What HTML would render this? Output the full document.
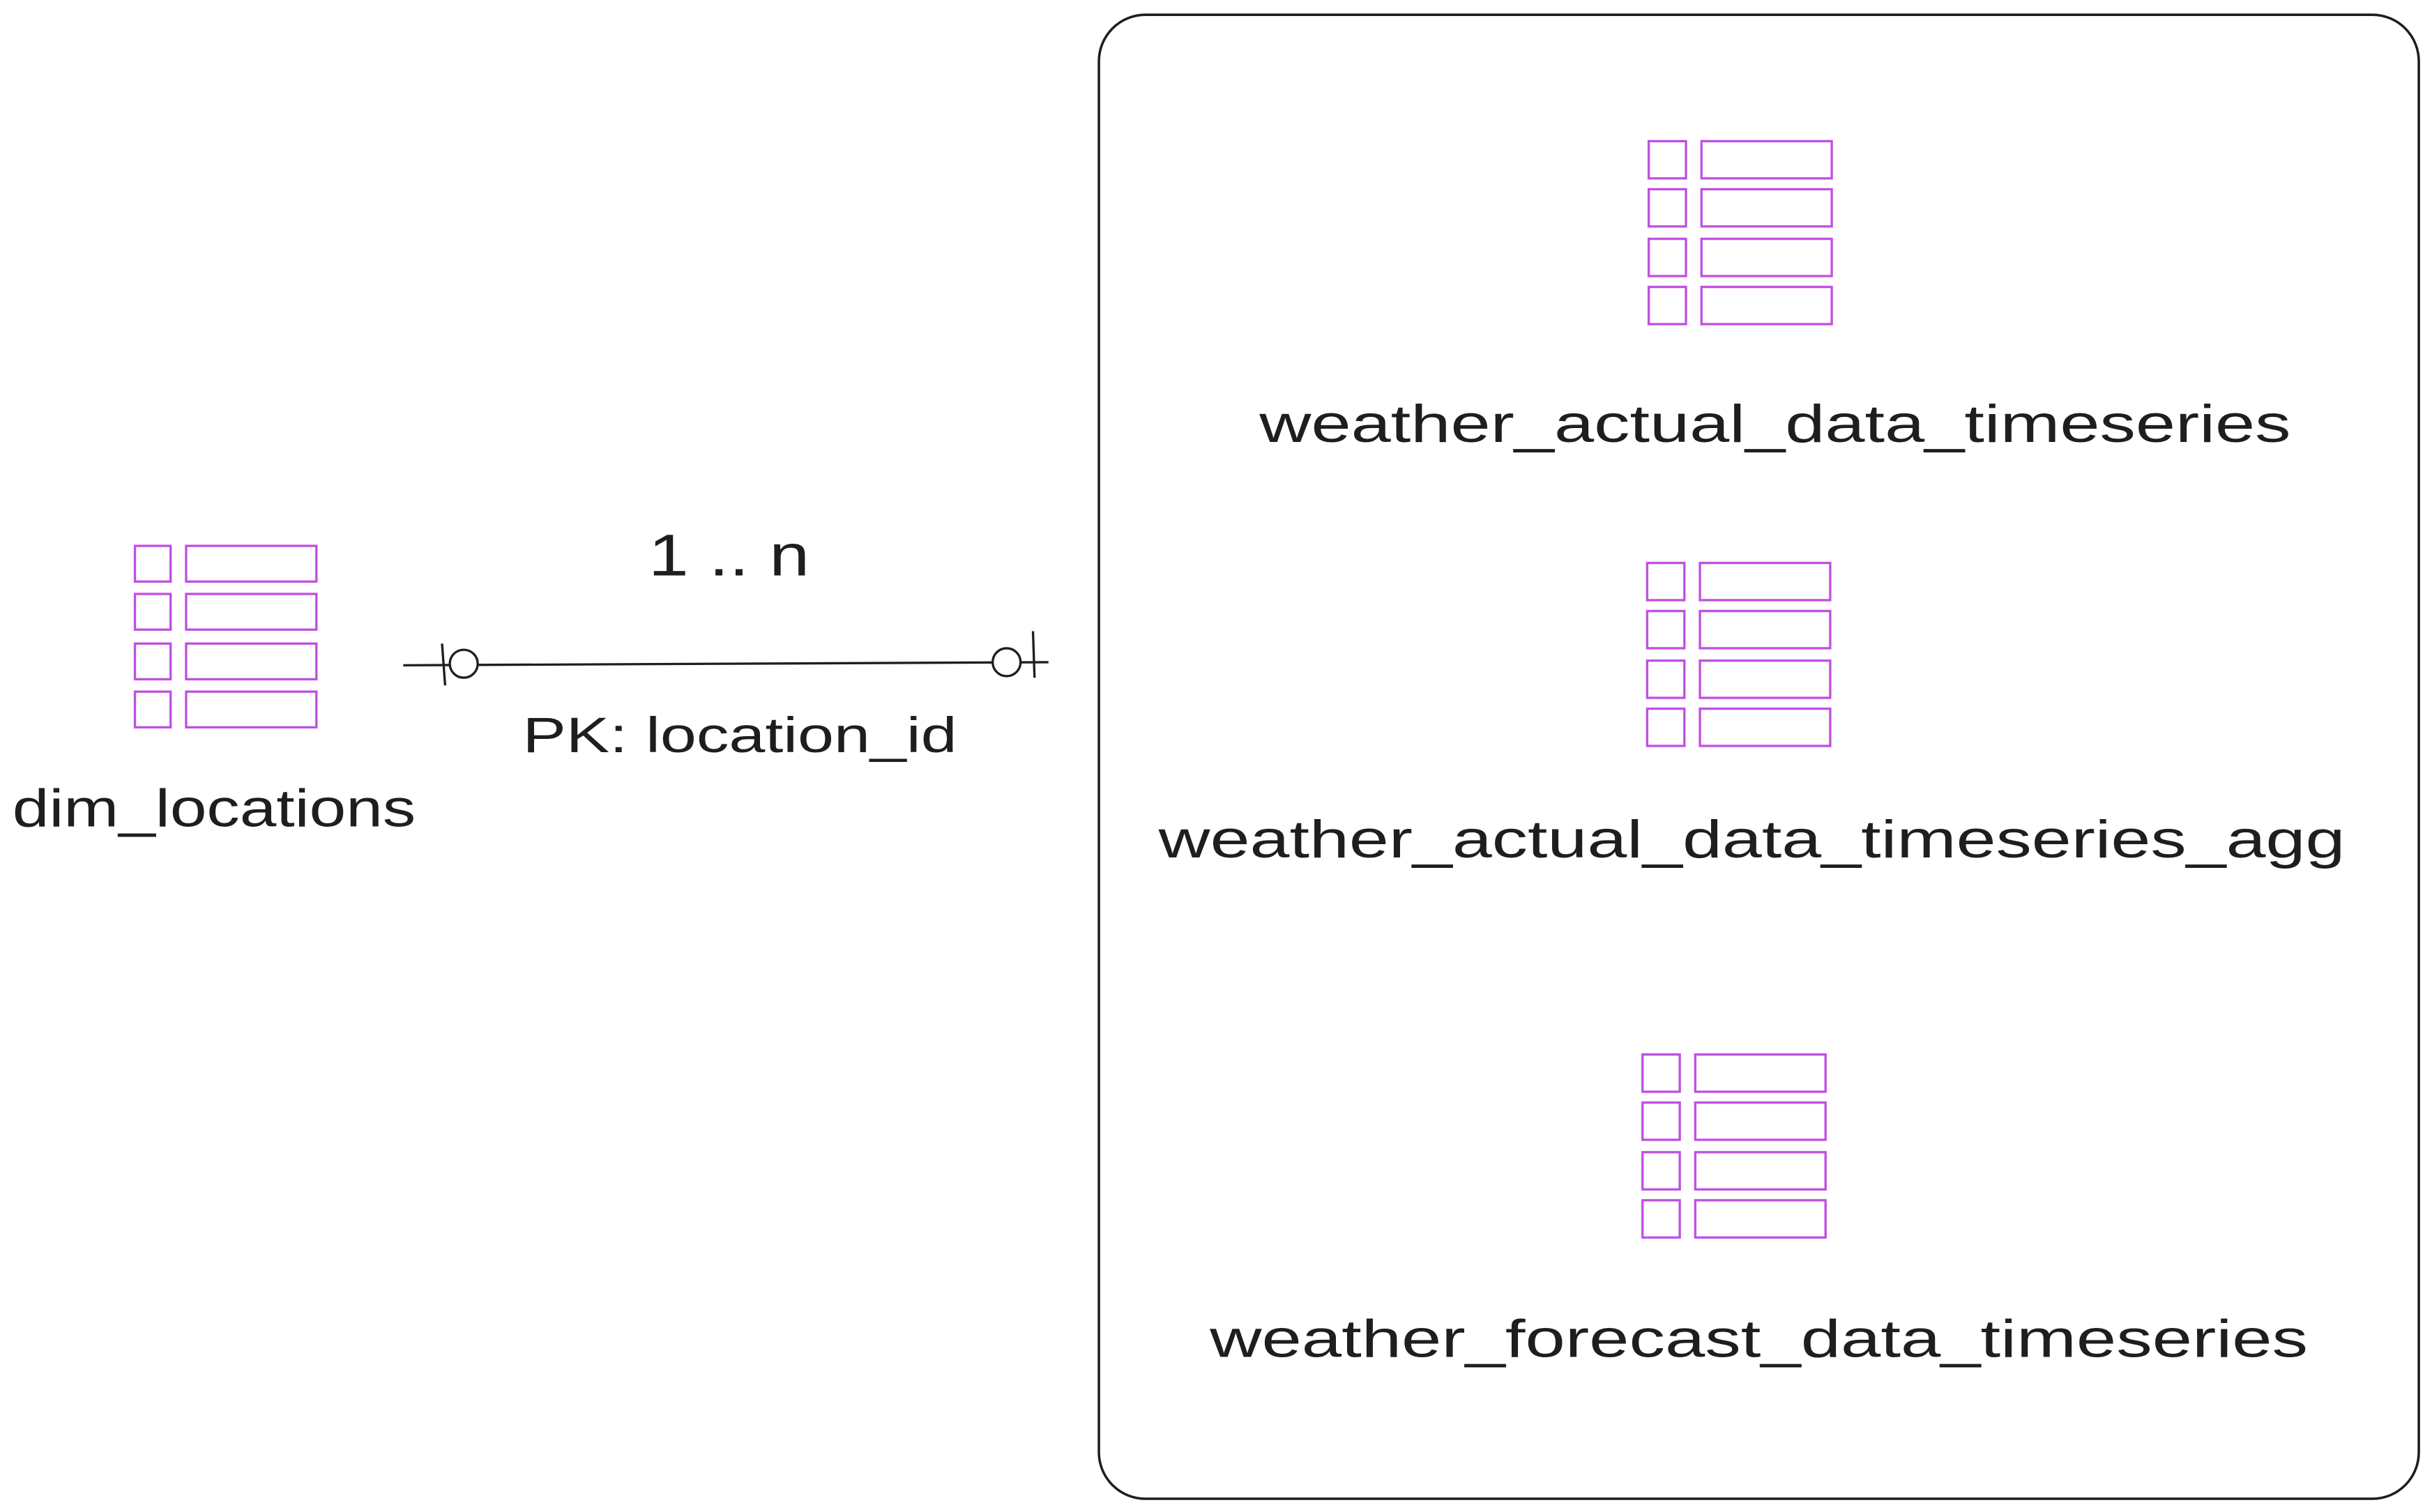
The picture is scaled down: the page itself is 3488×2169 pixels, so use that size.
<!DOCTYPE html>
<html><head><meta charset="utf-8"><style>
html,body{margin:0;padding:0;background:#fff;}
svg{display:block;}
text{font-family:"Liberation Sans",sans-serif;fill:#1e1e1e;}
</style></head><body>
<svg width="3488" height="2169" viewBox="0 0 1568 975" xmlns="http://www.w3.org/2000/svg">
<rect width="1568" height="975" fill="#fff"/>
<rect x="708.5" y="9.5" width="851" height="957" rx="30" fill="none" stroke="#1e1e1e" stroke-width="1.6"/>

<g fill="none" stroke="#c050e0" stroke-width="1.5">
<rect x="87" y="352" width="23" height="23"/><rect x="120" y="352" width="84" height="23"/>
<rect x="87" y="383" width="23" height="23"/><rect x="120" y="383" width="84" height="23"/>
<rect x="87" y="415" width="23" height="23"/><rect x="120" y="415" width="84" height="23"/>
<rect x="87" y="446" width="23" height="23"/><rect x="120" y="446" width="84" height="23"/>
</g>
<text x="8" y="533" font-size="34" textLength="260" lengthAdjust="spacingAndGlyphs">dim_locations</text>

<g fill="none" stroke="#1e1e1e" stroke-width="1.5">
<line x1="260" y1="429" x2="676" y2="427"/>
<line x1="285" y1="415" x2="287" y2="442"/>
<line x1="666" y1="407" x2="667" y2="437"/>
<ellipse cx="299" cy="428" rx="9" ry="9" fill="#fff"/>
<ellipse cx="649" cy="427" rx="9" ry="9" fill="#fff"/>
</g>
<text x="418" y="371" font-size="38" textLength="104" lengthAdjust="spacingAndGlyphs">1 .. n</text>
<text x="337" y="485" font-size="32" textLength="280" lengthAdjust="spacingAndGlyphs">PK: location_id</text>

<g fill="none" stroke="#c050e0" stroke-width="1.5">
<rect x="1063" y="91" width="24" height="24"/><rect x="1097" y="91" width="84" height="24"/>
<rect x="1063" y="122" width="24" height="24"/><rect x="1097" y="122" width="84" height="24"/>
<rect x="1063" y="154" width="24" height="24"/><rect x="1097" y="154" width="84" height="24"/>
<rect x="1063" y="185" width="24" height="24"/><rect x="1097" y="185" width="84" height="24"/>
</g>
<text x="812" y="285" font-size="34" textLength="665" lengthAdjust="spacingAndGlyphs">weather_actual_data_timeseries</text>

<g fill="none" stroke="#c050e0" stroke-width="1.5">
<rect x="1062" y="363" width="24" height="24"/><rect x="1096" y="363" width="84" height="24"/>
<rect x="1062" y="394" width="24" height="24"/><rect x="1096" y="394" width="84" height="24"/>
<rect x="1062" y="426" width="24" height="24"/><rect x="1096" y="426" width="84" height="24"/>
<rect x="1062" y="457" width="24" height="24"/><rect x="1096" y="457" width="84" height="24"/>
</g>
<text x="747" y="553" font-size="34" textLength="765" lengthAdjust="spacingAndGlyphs">weather_actual_data_timeseries_agg</text>

<g fill="none" stroke="#c050e0" stroke-width="1.5">
<rect x="1059" y="680" width="24" height="24"/><rect x="1093" y="680" width="84" height="24"/>
<rect x="1059" y="711" width="24" height="24"/><rect x="1093" y="711" width="84" height="24"/>
<rect x="1059" y="743" width="24" height="24"/><rect x="1093" y="743" width="84" height="24"/>
<rect x="1059" y="774" width="24" height="24"/><rect x="1093" y="774" width="84" height="24"/>
</g>
<text x="780" y="875" font-size="34" textLength="708" lengthAdjust="spacingAndGlyphs">weather_forecast_data_timeseries</text>
</svg>
</body></html>
